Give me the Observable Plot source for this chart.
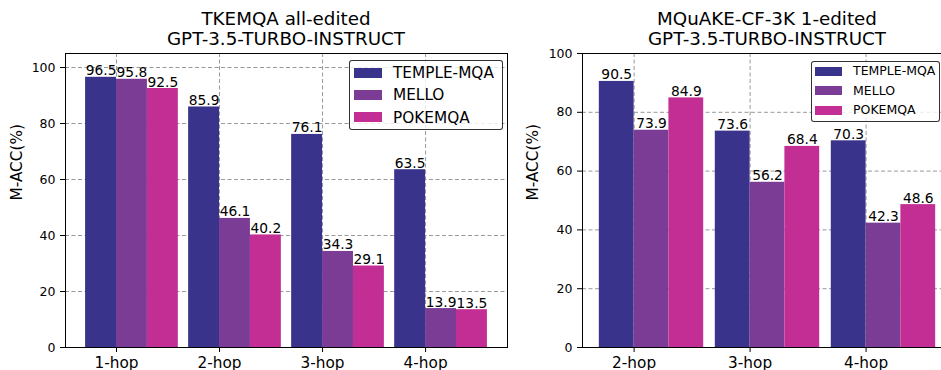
<!DOCTYPE html>
<html><head><meta charset="utf-8">
<script src="https://cdn.jsdelivr.net/npm/d3@7"></script>
<script src="https://cdn.jsdelivr.net/npm/@observablehq/plot@0.6"></script>
<style>
body{margin:0;background:#fff;}
#wrap{position:relative;width:941px;height:370px;overflow:hidden;font-family:"DejaVu Sans",sans-serif;color:#000;background:#fff}
.title{position:absolute;text-align:center;font-size:18.3px;line-height:20.5px;white-space:nowrap;width:400px}
.legend{position:absolute;background:rgba(255,255,255,0.8);border:1px solid rgba(0,0,0,0.8);border-radius:3px;box-sizing:border-box}
.legend .row{position:absolute;white-space:nowrap}
.legend .sw{position:absolute}
.panel{position:absolute;top:0}
</style>
</head><body>
<div id="wrap"></div>
<script>
const series = ["TEMPLE-MQA", "MELLO", "POKEMQA"];
const colors = ["#39338c", "#7b3c96", "#c22e93"];

const leftTitle = ["TKEMQA all-edited", "GPT-3.5-TURBO-INSTRUCT"];
const leftCats = ["1-hop", "2-hop", "3-hop", "4-hop"];
const leftTemple = [96.5, 85.9, 76.1, 63.5];
const leftMello = [95.8, 46.1, 34.3, 13.9];
const leftPoke = [92.5, 40.2, 29.1, 13.5];

const rightTitle = ["MQuAKE-CF-3K 1-edited", "GPT-3.5-TURBO-INSTRUCT"];
const rightCats = ["2-hop", "3-hop", "4-hop"];
const rightTemple = [90.5, 73.6, 70.3];
const rightMello = [73.9, 56.2, 42.3];
const rightPoke = [84.9, 68.4, 48.6];

const yTicks = [0, 20, 40, 60, 80, 100];
const yLabel = "M-ACC(%)";

const W = 0.3;
const wrap = document.getElementById("wrap");

function table(cats, vals) {
  return cats.flatMap((c, i) => series.map((s, j) => ({cat: c, i, s, j, v: vals[j][i]})));
}

function panel({cats, vals, width, marginLeft, marginRight, yMax, ylabDx}) {
  const data = table(cats, vals);
  const idx = cats.map((_, i) => i);
  const span = cats.length - 1 + 3 * W;
  const pad = 0.05 * span;
  const grid = {stroke: "#999", strokeOpacity: 1, strokeWidth: 1, strokeDasharray: "4,2.5"};
  return Plot.plot({
    width, height: 370,
    marginLeft, marginRight, marginTop: 53, marginBottom: 23,
    style: {fontFamily: "DejaVu Sans", fontSize: "12px", background: "transparent", color: "black", overflow: "visible"},
    x: {type: "linear", domain: [-W - pad, cats.length - 1 + 2 * W + pad]},
    y: {domain: [0, yMax]},
    color: {domain: series, range: colors},
    marks: [
      Plot.gridY(yTicks.filter(t => t > 0 && t < yMax), grid),
      Plot.gridX(idx, grid),
      Plot.rect(data, {x1: d => d.i + (d.j - 1) * W, x2: d => d.i + d.j * W, y1: 0, y2: "v", fill: "s"}),
      Plot.text(data, {x: d => d.i + (d.j - 0.5) * W, y: "v", text: d => d.v.toFixed(1), lineAnchor: "bottom", dy: -2, fontSize: 13.8, fill: "black"}),
      Plot.frame({stroke: "black"}),
      Plot.axisY({ticks: yTicks, tickSize: 5, tickPadding: 5, fontSize: 12.5, label: null}),
      Plot.axisX({ticks: idx, tickFormat: i => cats[i], tickSize: 5, tickPadding: 5, fontSize: 15.3, label: null}),
      Plot.text([yLabel], {frameAnchor: "left", rotate: -90, dx: ylabDx, fontSize: 15.3, fill: "black"})
    ]
  });
}

function addPanel(svg, left) {
  svg.classList.add("panel");
  svg.style.left = left + "px";
  wrap.appendChild(svg);
}

function addTitle(lines, centerX) {
  const d = document.createElement("div");
  d.className = "title";
  d.style.left = (centerX - 200) + "px";
  d.style.top = "8.9px";
  d.innerHTML = lines.join("<br>");
  wrap.appendChild(d);
}

function addLegend({left, top, width, height, rowY, swX, swW, swH, textX, fontSize, lineH, capC}) {
  const box = document.createElement("div");
  box.className = "legend";
  Object.assign(box.style, {left: left + "px", top: top + "px", width: width + "px", height: height + "px"});
  series.forEach((s, k) => {
    const sw = document.createElement("div");
    sw.className = "sw";
    Object.assign(sw.style, {left: swX + "px", top: (rowY[k] - swH / 2) + "px", width: swW + "px", height: swH + "px", background: colors[k]});
    box.appendChild(sw);
    const t = document.createElement("div");
    t.className = "row";
    Object.assign(t.style, {left: textX + "px", top: (rowY[k] - capC) + "px", fontSize: fontSize + "px", lineHeight: lineH + "px"});
    t.textContent = s;
    box.appendChild(t);
  });
  wrap.appendChild(box);
}

addPanel(panel({cats: leftCats, vals: [leftTemple, leftMello, leftPoke], width: 520, marginLeft: 65, marginRight: 13, yMax: 105, ylabDx: -48}), 0);
addPanel(panel({cats: rightCats, vals: [rightTemple, rightMello, rightPoke], width: 440, marginLeft: 62, marginRight: 8, yMax: 100, ylabDx: -49}), 520);

addTitle(leftTitle, 286);
addTitle(rightTitle, 767);

addLegend({left: 349, top: 60, width: 154, height: 70, rowY: [11.7, 34, 56.2], swX: 4, swW: 28, swH: 10, textX: 43, fontSize: 15.3, lineH: 16, capC: 7.7});
addLegend({left: 811, top: 60.5, width: 129, height: 61.5, rowY: [9.5, 29, 48.5], swX: 3, swW: 27, swH: 9, textX: 41, fontSize: 12.5, lineH: 14, capC: 6.8});
</script>
</body></html>
